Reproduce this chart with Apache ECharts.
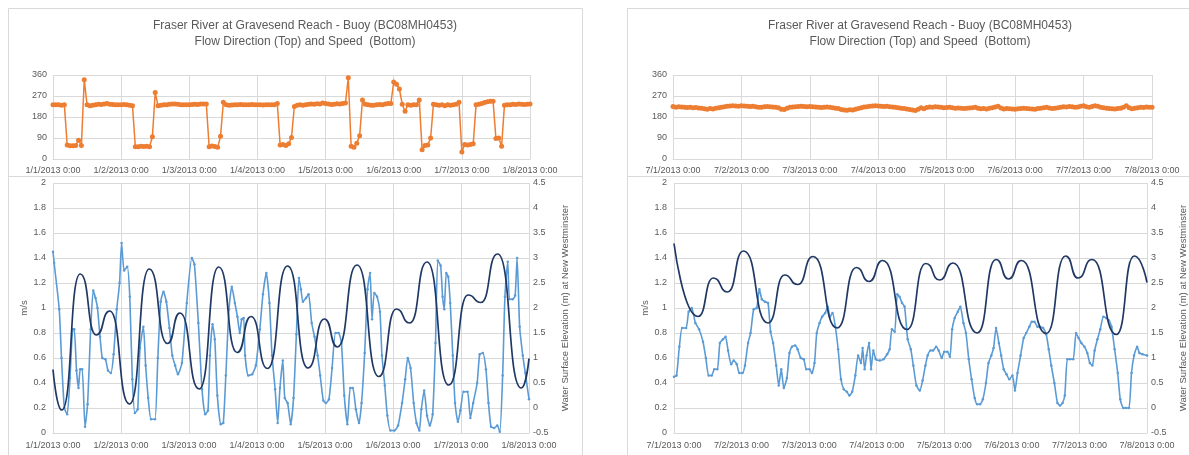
<!DOCTYPE html>
<html>
<head>
<meta charset="utf-8">
<script src="https://cdn.jsdelivr.net/npm/echarts@6/dist/echarts.min.js"></script>
<style>
  html, body { margin: 0; padding: 0; background: #fff; }
  #chart { width: 1189px; height: 455px; }
</style>
</head>
<body>
<div id="chart"></div>
<script>
// tick labels for the two weeks
const janLabels = ['1/1/2013 0:00', '1/2/2013 0:00', '1/3/2013 0:00', '1/4/2013 0:00', '1/5/2013 0:00', '1/6/2013 0:00', '1/7/2013 0:00', '1/8/2013 0:00'];
const julLabels = ['7/1/2013 0:00', '7/2/2013 0:00', '7/3/2013 0:00', '7/4/2013 0:00', '7/5/2013 0:00', '7/6/2013 0:00', '7/7/2013 0:00', '7/8/2013 0:00'];

// flow direction (deg), hourly from 0:00 on day 1
const janDir = [233,232,232,230,232,
  60,57,57,58,80,58,340,232,228,
  230,232,235,234,236,238,235,234,233,233,232,234,233,230,228,
  52,52,55,54,55,53,95,285,228,
  230,232,233,235,236,236,235,233,232,232,233,234,235,234,236,236,
  236,52,56,54,50,97,243,232,
  230,231,232,233,234,233,232,233,234,233,232,232,231,232,232,233,232,
  238,60,62,58,65,92,225,230,
  232,230,233,235,236,235,237,236,240,238,236,234,235,237,236,238,
  240,348,55,50,68,100,253,235,
  232,230,230,232,234,233,236,238,
  238,330,320,300,235,205,232,230,232,232,253,40,58,60,90,235,
  233,230,232,228,232,230,233,235,
  243,30,62,60,62,65,232,235,238,242,245,248,248,88,90,55,
  230,232,233,235,234,236,235,234,235,236];

const julDir = [225,222,224,223,222,221,222,220,221,219,218,
  215,213,216,214,218,220,
  222,224,226,227,228,227,226,228,227,226,225,226,224,222,
  222,224,225,224,223,222,220,
  213,212,218,
  222,223,224,225,226,225,224,225,224,223,222,221,222,223,222,220,218,216,
  212,210,209,211,210,213,216,220,
  223,224,226,227,228,227,226,225,226,224,223,222,220,218,216,214,
  212,210,208,213,220,215,
  221,223,222,224,223,222,220,221,222,220,218,219,217,216,218,219,220,222,
  218,215,216,214,217,220,223,226,219,214,216,215,
  214,213,215,216,217,216,215,214,213,216,218,220,222,219,216,218,220,
  222,224,223,225,224,222,223,226,228,224,222,225,228,226,222,220,218,
  216,215,214,216,218,222,228,220,215,218,220,222,221,223,222,222];

// flow speed (m/s), [hour, value]
const janSpeed = [[0,1.45],[0.4,1.36],[2.2,0.99],[3,0.60],[4,0.20],[5,0.15],[6,0.44],[7,0.83],[7.5,0.83],[8.3,0.50],[9,0.36],[9.6,0.51],[10.3,0.51],[11.3,0.05],[12.2,0.23],[13.3,0.83],[14.2,1.14],[15,1.08],[15.7,1.00],[16.6,0.77],[17.4,0.60],[18.5,0.59],[19.4,0.50],[20.4,0.48],[21.4,0.63],[22.5,0.99],[23.5,1.20],[24.2,1.52],[25.1,1.30],[26.2,1.33],[27.1,1.09],[28,0.43],[28.9,0.16],[29.9,0.19],[30.7,0.68],[31.9,0.85],[32.7,0.54],[33.6,0.28],[34.6,0.11],[36,0.11],[37,0.60],[38,1.05],[39,1.13],[40,1.05],[41.1,0.84],[42.1,0.62],[43.1,0.54],[44.1,0.47],[45.5,0.56],[47.2,1.04],[49,1.40],[49.9,1.35],[51.3,0.88],[52.6,0.35],[53.7,0.15],[54.7,0.18],[55.4,0.62],[56.3,0.87],[57.1,0.75],[58,0.30],[59.2,0.07],[60.1,0.08],[61,0.46],[62.1,0.99],[63.1,1.17],[64.2,1.04],[65.1,0.93],[65.9,0.80],[66.6,0.91],[67.3,0.92],[67.8,0.62],[68.9,0.46],[70.3,0.47],[71.6,0.54],[73,0.83],[74.1,1.11],[75.3,1.28],[76.4,1.04],[77.3,0.62],[78.4,0.35],[79.3,0.08],[80.1,0.36],[81.1,0.58],[81.8,0.28],[82.8,0.24],[83.9,0.07],[84.9,0.28],[85.9,0.79],[86.8,1.24],[87.5,1.15],[88.2,1.05],[89.3,1.08],[90.2,1.11],[91.3,0.88],[92.3,0.77],[93.4,0.62],[94.3,0.46],[95.4,0.26],[96.3,0.24],[97.4,0.27],[98.5,0.52],[99.7,0.80],[100.8,0.80],[101.8,0.72],[102.8,0.30],[103.9,0.07],[104.9,0.36],[105.8,0.36],[106.9,0.19],[108,0.08],[108.9,0.24],[110,0.64],[111,1.15],[111.9,1.28],[112.6,0.91],[113.4,1.12],[114.4,1.09],[115.4,0.97],[116.1,0.62],[117.1,0.38],[118,0.14],[119.1,0.02],[120.5,0.02],[121.8,0.06],[123.2,0.24],[124.3,0.43],[125.2,0.60],[126.2,0.52],[127.3,0.24],[128.3,0.08],[129.3,0.02],[130,0.19],[131,0.34],[132,0.14],[133,0.06],[134,0.15],[135,0.72],[135.8,1.38],[136.8,1.34],[137.5,1.09],[138.1,0.99],[138.8,1.28],[139.5,1.25],[140.2,1.04],[141.1,0.62],[141.9,0.24],[142.9,0.09],[143.8,0.18],[144.9,0.33],[146.3,0.33],[147.3,0.12],[148.3,0.24],[149.7,0.40],[150.6,0.63],[151.7,0.64],[152.8,0.51],[153.7,0.24],[154.6,0.05],[155.7,0.04],[156.8,0.06],[157.7,0.01],[158.7,0.46],[159.5,1.09],[160.5,1.37],[161.1,1.07],[162.2,1.07],[163.1,1.10],[163.8,1.40],[164.7,0.85],[165.8,0.62],[166.7,0.48],[168,0.27]];

const julSpeed = [[0,0.45],[0.9,0.46],[1.9,0.69],[2.9,0.84],[4.3,0.84],[5.2,0.97],[6.3,1.00],[7.6,0.88],[8.9,0.83],[10.3,0.73],[11.3,0.60],[12.3,0.46],[13.4,0.46],[14.3,0.51],[15.4,0.51],[16.3,0.72],[17.4,0.75],[18.3,0.77],[19.2,0.66],[20.3,0.55],[21.2,0.58],[22.3,0.55],[23.2,0.48],[24.3,0.48],[25.2,0.54],[26.3,0.72],[27.2,0.80],[28.3,0.99],[29.4,1.00],[30.3,1.15],[31.2,1.07],[32.3,1.05],[33.4,1.04],[34.3,0.81],[35.2,0.72],[36.3,0.54],[37.2,0.38],[38.1,0.51],[39,0.36],[40.1,0.44],[41,0.64],[41.9,0.69],[43,0.70],[43.9,0.67],[45,0.60],[46.1,0.59],[47,0.51],[48.1,0.51],[49,0.48],[49.9,0.56],[50.7,0.80],[51.7,0.88],[52.6,0.93],[53.7,0.96],[54.6,1.01],[55.4,0.93],[56.3,0.96],[57.3,0.85],[58.3,0.67],[59.3,0.43],[60.3,0.35],[61.4,0.33],[62.3,0.30],[63.3,0.33],[64.4,0.46],[65.4,0.62],[66.4,0.56],[67,0.68],[67.7,0.51],[68.4,0.62],[69.3,0.72],[70,0.51],[70.8,0.66],[71.7,0.59],[73.1,0.58],[74.4,0.59],[75.7,0.63],[76.6,0.67],[77.4,0.83],[78.4,0.81],[79.3,1.11],[80.1,1.09],[81,1.04],[81.9,1.01],[83,0.75],[84.1,0.67],[85,0.54],[86.1,0.38],[87.3,0.34],[88.3,0.42],[89.3,0.54],[90.1,0.62],[91.1,0.66],[92,0.66],[93.1,0.69],[94,0.66],[95.1,0.60],[96,0.65],[97.1,0.65],[98,0.61],[98.8,0.83],[99.7,0.92],[100.8,0.97],[101.7,1.01],[102.8,0.88],[103.7,0.80],[104.7,0.59],[105.7,0.43],[106.8,0.28],[107.7,0.23],[108.7,0.23],[109.7,0.27],[110.8,0.40],[111.7,0.56],[112.7,0.62],[113.5,0.68],[114.4,0.84],[115.4,0.72],[116.2,0.62],[117.1,0.51],[118.1,0.47],[119.1,0.43],[120.2,0.46],[121.1,0.34],[122,0.48],[123.1,0.62],[124.2,0.76],[125.1,0.80],[126.2,0.85],[127.1,0.89],[128,0.89],[129.1,0.85],[130,0.85],[131.1,0.84],[132.2,0.79],[133.1,0.67],[134,0.54],[135.1,0.40],[136.2,0.24],[137.1,0.22],[138,0.24],[138.8,0.30],[139.7,0.59],[140.7,0.59],[141.8,0.59],[142.8,0.80],[143.7,0.76],[144.7,0.72],[145.8,0.69],[146.8,0.64],[147.7,0.56],[148.6,0.54],[149.4,0.66],[150.4,0.75],[151.4,0.83],[152.5,0.93],[153.5,0.92],[154.5,0.90],[155.4,0.85],[156.5,0.67],[157.6,0.48],[158.5,0.27],[159.6,0.20],[160.5,0.20],[161.6,0.20],[162.5,0.48],[163.4,0.62],[164.5,0.69],[165.3,0.64],[166.4,0.63],[168,0.62]];

// water surface elevation (m) at New Westminster, turning points [hour, value]
const janElev = [[0,0.77],[3.1,-0.04],[9.6,2.68],[15.3,1.46],[20,1.94],[27,0.08],[34,2.78],[40.4,1.29],[44.8,1.90],[51.6,0.38],[58.5,2.82],[65,1.11],[69.9,1.83],[75.7,0.79],[82.8,2.84],[90,0.80],[95.8,1.78],[100.4,1.22],[107.3,2.86],[115,0.63],[121.2,1.98],[125.9,1.70],[132,2.92],[139.7,0.46],[146.5,2.26],[151,2.11],[156.9,3.08],[165.3,0.40],[168,0.99]];
const julElev = [[0,3.29],[8.5,1.83],[14,2.60],[19,2.32],[24.7,3.14],[33.4,1.70],[39.3,2.66],[43.9,2.47],[49.4,3.03],[57.9,1.60],[64.8,2.81],[69.3,2.53],[74.1,2.95],[82.8,1.57],[89.4,2.89],[94.4,2.56],[99.1,2.90],[107.7,1.50],[114.4,2.97],[118.8,2.58],[123.4,2.95],[132.2,1.49],[139.1,3.04],[143.5,2.60],[148.5,2.97],[157.1,1.47],[163.5,3.04],[168,2.51]];

const FONT = 'Liberation Sans';
const TXT = '#595959';
const GRIDC = '#d9d9d9';
const ORANGE = '#ED7D31';
const LBLUE = '#5B9BD5';
const NAVY = '#1F3864';

function hourly(arr) {
  return arr.map((v, i) => [i, v]);
}

function xAx(gridIndex, labels, margin) {
  return {
    type: 'value', gridIndex: gridIndex, min: 0, max: 168, interval: 24,
    axisLine: { show: true, lineStyle: { color: GRIDC } },
    axisTick: { show: false },
    splitLine: { show: true, lineStyle: { color: GRIDC, width: 1 } },
    axisLabel: {
      color: TXT, fontFamily: FONT, fontSize: 9, margin: margin,
      formatter: v => labels[Math.round(v / 24)]
    }
  };
}

function dirAx(gridIndex) {
  return {
    type: 'value', gridIndex: gridIndex, min: 0, max: 360, interval: 90,
    axisLine: { show: false }, axisTick: { show: false },
    splitLine: { lineStyle: { color: GRIDC } },
    axisLabel: { color: TXT, fontFamily: FONT, fontSize: 9, margin: 6 }
  };
}

function speedAx(gridIndex) {
  return {
    type: 'value', gridIndex: gridIndex, min: 0, max: 2, interval: 0.2,
    name: 'm/s', nameLocation: 'middle', nameGap: 24, nameRotate: 90,
    nameTextStyle: { color: TXT, fontFamily: FONT, fontSize: 9.5 },
    axisLine: { show: false }, axisTick: { show: false },
    splitLine: { lineStyle: { color: GRIDC } },
    axisLabel: { color: TXT, fontFamily: FONT, fontSize: 9, margin: 7 }
  };
}

function elevAx(gridIndex) {
  return {
    type: 'value', gridIndex: gridIndex, position: 'right', min: -0.5, max: 4.5, interval: 0.5,
    name: 'Water Surface Elevation (m) at New Westminster', nameLocation: 'middle', nameGap: 31, nameRotate: 90,
    nameTextStyle: { color: TXT, fontFamily: FONT, fontSize: 9.5 },
    axisLine: { show: false }, axisTick: { show: false },
    splitLine: { show: false },
    axisLabel: { color: TXT, fontFamily: FONT, fontSize: 9, margin: 4 }
  };
}

function dirSeries(data, xi, yi) {
  return {
    type: 'line', xAxisIndex: xi, yAxisIndex: yi, data: hourly(data),
    symbol: 'circle', symbolSize: 5, showSymbol: true,
    lineStyle: { color: ORANGE, width: 1.5 }, itemStyle: { color: ORANGE },
    animation: false, z: 3
  };
}

function speedSeries(data, xi, yi) {
  return {
    type: 'line', xAxisIndex: xi, yAxisIndex: yi, data: data,
    symbol: 'circle', symbolSize: 2.5, showSymbol: true, smooth: 0.2,
    lineStyle: { color: LBLUE, width: 1.6 }, itemStyle: { color: LBLUE },
    animation: false, z: 3
  };
}

function elevSeries(data, xi, yi) {
  return {
    type: 'line', xAxisIndex: xi, yAxisIndex: yi, data: data,
    showSymbol: false, smooth: 0.6, smoothMonotone: 'x',
    lineStyle: { color: NAVY, width: 1.7 },
    animation: false, z: 4
  };
}

const titleText = 'Fraser River at Gravesend Reach - Buoy (BC08MH0453)\nFlow Direction (Top) and Speed  (Bottom)';

const chart = echarts.init(document.getElementById('chart'), null, { renderer: 'canvas' });
chart.setOption({
  backgroundColor: '#fff',
  animation: false,
  title: [
    { text: titleText, left: 300, top: 13, textAlign: 'center',
      textStyle: { color: TXT, fontFamily: FONT, fontSize: 12, fontWeight: 'normal', lineHeight: 16 } },
    { text: titleText, left: 915, top: 13, textAlign: 'center',
      textStyle: { color: TXT, fontFamily: FONT, fontSize: 12, fontWeight: 'normal', lineHeight: 16 } }
  ],
  graphic: [
    { type: 'rect', shape: { x: 8.5, y: 8.5, width: 574, height: 168 }, style: { fill: 'none', stroke: GRIDC, lineWidth: 1 }, z: -1 },
    { type: 'rect', shape: { x: 8.5, y: 176.5, width: 574, height: 300 }, style: { fill: 'none', stroke: GRIDC, lineWidth: 1 }, z: -1 },
    { type: 'rect', shape: { x: 627.5, y: 8.5, width: 600, height: 168 }, style: { fill: 'none', stroke: GRIDC, lineWidth: 1 }, z: -1 },
    { type: 'rect', shape: { x: 627.5, y: 176.5, width: 600, height: 300 }, style: { fill: 'none', stroke: GRIDC, lineWidth: 1 }, z: -1 }
  ],
  grid: [
    { left: 53, top: 75, width: 477, height: 84 },
    { left: 53, top: 183, width: 476, height: 250 },
    { left: 673, top: 75, width: 479, height: 84 },
    { left: 674, top: 183, width: 476, height: 250 }
  ],
  xAxis: [
    xAx(0, janLabels, 7),
    xAx(1, janLabels, 8),
    xAx(2, julLabels, 7),
    xAx(3, julLabels, 8)
  ],
  yAxis: [
    dirAx(0),
    speedAx(1),
    elevAx(1),
    dirAx(2),
    speedAx(3),
    elevAx(3)
  ],
  series: [
    dirSeries(janDir, 0, 0),
    speedSeries(janSpeed, 1, 1),
    elevSeries(janElev, 1, 2),
    dirSeries(julDir, 2, 3),
    speedSeries(julSpeed, 3, 4),
    elevSeries(julElev, 3, 5)
  ]
});
</script>
</body>
</html>
